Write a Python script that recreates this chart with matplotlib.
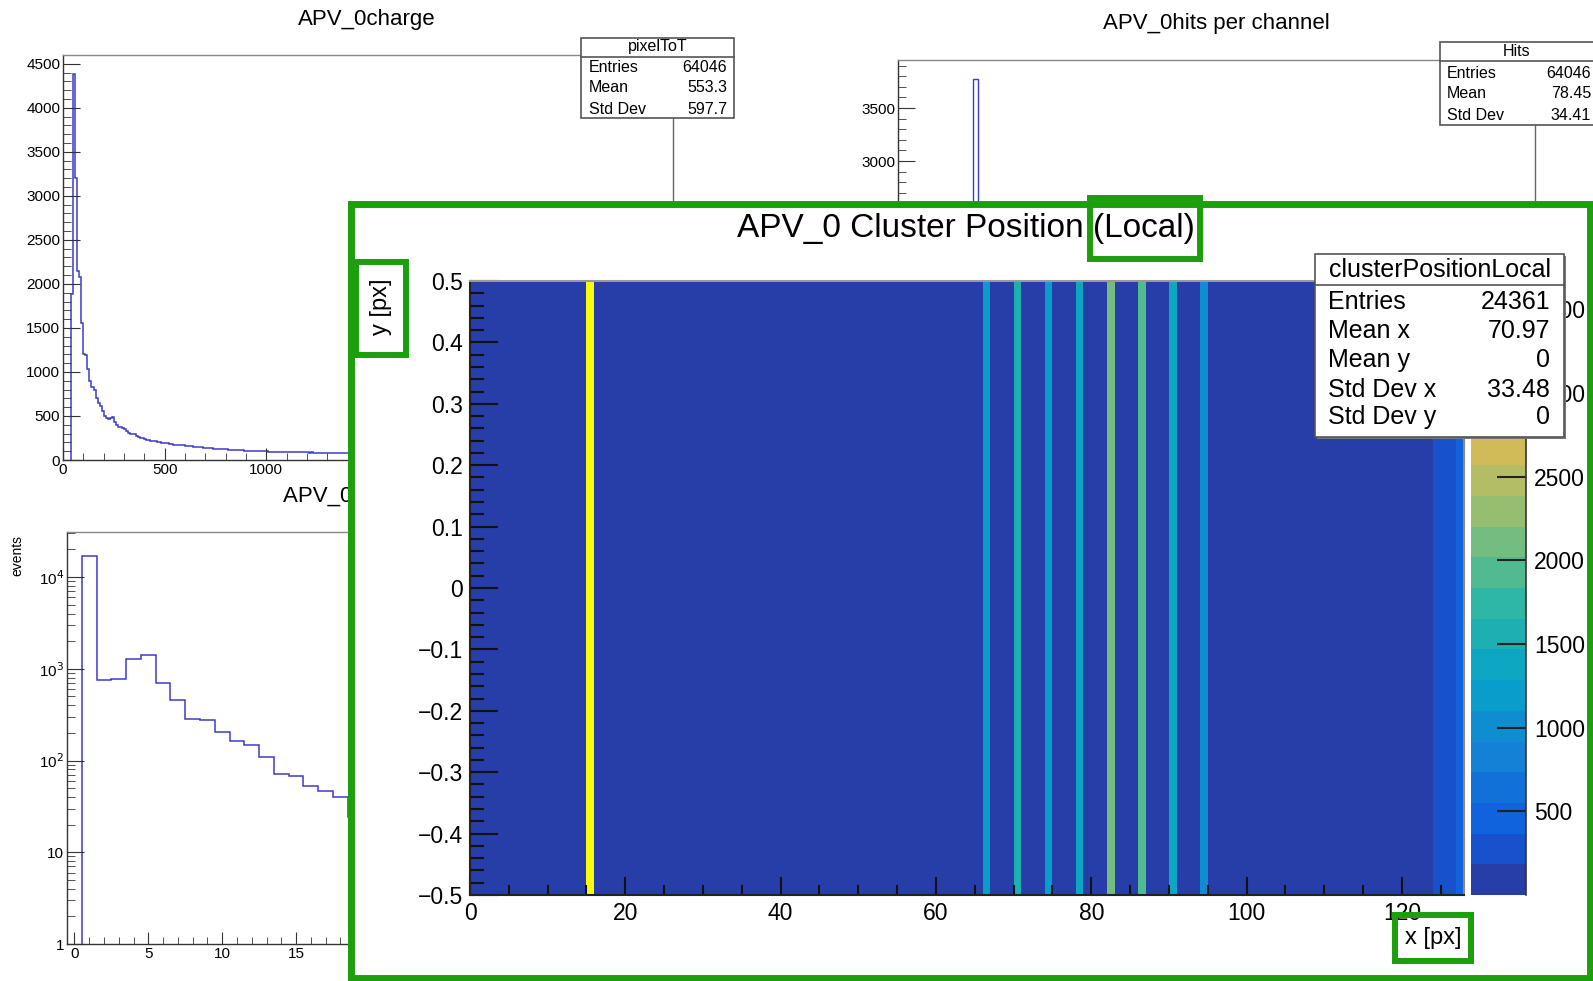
import numpy as np
import matplotlib
matplotlib.use("Agg")
import matplotlib.pyplot as plt
from matplotlib.colors import LinearSegmentedColormap, ListedColormap, BoundaryNorm
from matplotlib.patches import Rectangle
from matplotlib.lines import Line2D
from matplotlib.ticker import MultipleLocator, FixedLocator, LogLocator, NullFormatter, FuncFormatter

plt.rcParams['font.family'] = ['Liberation Sans', 'DejaVu Sans']

W, H = 1593, 981
GREEN = '#1c9f0c'
HIST = '#3b3bcc'

# ---- data ----
charge_lo, charge_w = 40, 10
charge_counts = [
    1880, 4380, 3200, 2150, 2080, 1560, 1200, 1190, 1030, 900,
    830, 790, 700, 650, 610, 560, 500, 480, 470, 475,
    490, 430, 400, 380, 375, 360, 350, 330, 310, 300,
    290, 295, 270, 262, 255, 245, 240, 232, 228, 220,
    218, 212, 205, 200, 196, 192, 190, 188, 184, 180,
    176, 172, 170, 168, 172, 165, 162, 160, 158, 155,
    152, 150, 148, 146, 144, 140, 138, 136, 135, 132,
    130, 128, 127, 125, 123, 121, 120, 118, 117, 115,
    114, 112, 111, 110, 108, 107, 106, 105, 104, 103,
    102, 101, 100, 99, 98, 100, 97, 96, 95, 96,
    95, 94, 93, 95, 92, 91, 93, 90, 91, 89,
    90, 88, 89, 87, 88, 86, 87, 85, 86, 85,
    84, 85, 83, 84, 82, 83, 81, 82, 80, 81,
    80, 79, 80, 78, 79, 78, 77, 78, 77, 78,
    76, 77, 76, 75, 76, 75, 74,
]
charge_stats = [("Entries", "64046"), ("Mean", "553.3"), ("Std Dev", "597.7")]

hits_counts = [
    180, 160, 170, 165, 175, 160, 168, 172, 166, 170, 174, 162, 169, 171, 165, 3774,
    175, 168, 160, 172, 166, 170, 164, 173, 169, 161, 174, 167, 170, 165, 172, 168,
    170, 174, 163, 171, 167, 175, 160, 172, 169, 166, 171, 173, 168, 162, 172, 170,
    166, 171, 175, 169, 160, 172, 170, 174, 163, 171, 168, 173, 167, 176, 170, 400,
    900, 1400, 2200, 1500, 900, 1500, 2500, 1600, 900, 1400, 2250, 1500, 950, 1450, 2350, 1500,
    1000, 1600, 2550, 1700, 1000, 1650, 2500, 1600, 950, 1450, 2300, 1450, 900, 1300, 2100, 1300,
    450, 200, 175, 168, 172, 165, 170, 169, 174, 163, 171, 170, 167, 172, 169, 175,
    170, 164, 171, 173, 166, 172, 169, 170, 161, 171, 173, 400, 900, 880, 920, 1200,
]
hits_stats = [("Entries", "64046"), ("Mean", "78.45"), ("Std Dev", "34.41")]

size_counts = [0, 17000, 750, 780, 1270, 1400, 700, 460, 286, 277, 207, 165, 148, 109,
               71, 67, 53, 46, 40, 24, 21, 18, 15, 13, 11, 9, 8, 6, 5, 4, 4, 3, 2, 2, 1, 1]
size_yticks = [1, 10, 100, 1000, 10000]
size_ylabels = ['1', '10', '10$^{2}$', '10$^{3}$', '10$^{4}$']

cluster_counts = [
    72, 65, 70, 68, 74, 66, 71, 69, 73, 67, 70, 72, 68, 75, 71, 3670,
    74, 69, 66, 72, 70, 68, 73, 71, 67, 70, 74, 69, 72, 66, 71, 68,
    70, 73, 67, 71, 69, 74, 66, 72, 70, 68, 71, 73, 69, 67, 72, 70,
    68, 71, 74, 69, 66, 72, 70, 73, 67, 71, 69, 72, 68, 74, 70, 66,
    71, 69, 1130, 72, 70, 68, 1540, 73, 67, 71, 1180, 69, 72, 70, 1360, 68,
    71, 73, 2080, 67, 70, 72, 1900, 69, 71, 68, 1360, 73, 70, 67, 1000, 72,
    69, 71, 68, 74, 70, 66, 72, 69, 73, 67, 71, 70, 68, 72, 69, 74,
    70, 67, 71, 73, 68, 72, 69, 70, 66, 71, 73, 68, 270, 265, 280, 420,
]
cluster_stats = [("Entries", "24361"), ("Mean x", "70.97"), ("Mean y", "0"),
                 ("Std Dev x", "33.48"), ("Std Dev y", "0")]
cbar_ticks = [500, 1000, 1500, 2000, 2500, 3000, 3500]
z_max = 3670
n_levels = 20

# ROOT kBird palette
bird_stops = [0.0, 0.125, 0.25, 0.375, 0.5, 0.625, 0.75, 0.875, 1.0]
bird_r = [0.2082, 0.0592, 0.0780, 0.0232, 0.1802, 0.5301, 0.8186, 0.9956, 0.9764]
bird_g = [0.1664, 0.3599, 0.5041, 0.6419, 0.7178, 0.7492, 0.7328, 0.7862, 0.9832]
bird_b = [0.5293, 0.8684, 0.8385, 0.7914, 0.6425, 0.4662, 0.3499, 0.1968, 0.0539]


def box(x0, y0, x1, y1):
    return [x0 / W, 1 - y1 / H, (x1 - x0) / W, (y1 - y0) / H]


def fx(x):
    return x / W


def fy(y):
    return 1 - y / H


def root_axes(rect, z=0):
    ax = fig.add_axes(rect, zorder=z)
    for s in ax.spines.values():
        s.set_color('#333333')
        s.set_linewidth(1)
    ax.spines['top'].set_color('#888888')
    ax.spines['right'].set_color('#666666')
    ax.tick_params(which='both', direction='in', top=False, right=False,
                   labelsize=11, pad=2, color='#333333')
    return ax


def stats_box(x0, y0, x1, y1, title, rows, title_y, sep_y, row_ys, lab_x, val_x,
              fs, z, shadow=0):
    if shadow:
        fig.add_artist(Rectangle((fx(x0 + shadow), fy(y1 + shadow)), (x1 - x0) / W,
                                 (y1 - y0) / H, transform=fig.transFigure,
                                 fc='#777777', ec='none', zorder=z - 0.01))
    fig.add_artist(Rectangle((fx(x0), fy(y1)), (x1 - x0) / W, (y1 - y0) / H,
                             transform=fig.transFigure, fc='white', ec='#555555',
                             lw=1.2, zorder=z))
    fig.add_artist(Line2D([fx(x0), fx(x1)], [fy(sep_y), fy(sep_y)],
                          transform=fig.transFigure, color='#555555', lw=1.2, zorder=z))
    fig.text(fx((x0 + min(x1, W)) / 2), fy(title_y), title, fontsize=fs,
             ha='center', va='center', zorder=z + 0.01)
    for (lab, val), yy in zip(rows, row_ys):
        fig.text(fx(lab_x), fy(yy), lab, fontsize=fs, ha='left', va='center', zorder=z + 0.01)
        fig.text(fx(val_x), fy(yy), val, fontsize=fs, ha='right', va='center', zorder=z + 0.01)


fig = plt.figure(figsize=(W / 100, H / 100), dpi=100)

# ---- background: charge ----
ax1 = root_axes(box(63, 55, 673, 460))
edges = charge_lo + charge_w * np.arange(len(charge_counts) + 1)
ax1.stairs(charge_counts, edges, color=HIST, lw=1.1)
ax1.set_xlim(0, 3000)
ax1.set_ylim(0, 4600)
ax1.xaxis.set_major_locator(MultipleLocator(500))
ax1.xaxis.set_minor_locator(MultipleLocator(100))
ax1.yaxis.set_major_locator(MultipleLocator(500))
ax1.yaxis.set_minor_locator(MultipleLocator(100))
ax1.tick_params(axis='y', which='major', length=12)
ax1.tick_params(axis='y', which='minor', length=6)
ax1.tick_params(axis='x', which='major', length=9)
ax1.tick_params(axis='x', which='minor', length=5)
fig.text(fx(367), fy(20), "APV_0charge", fontsize=16, ha='center', va='center', zorder=0.5)
stats_box(581, 38, 734, 118, "pixelToT", charge_stats, 47, 57, [68, 88, 109], 589, 727, 11.5, 0.5)

# ---- background: hits per channel ----
ax2 = root_axes(box(898, 60, 1535, 479))
ax2.stairs(hits_counts, np.arange(len(hits_counts) + 1), color=HIST, lw=1)
ax2.set_xlim(0, 128)
ax2.set_ylim(0, 3953)
ax2.yaxis.set_major_locator(MultipleLocator(500))
ax2.yaxis.set_minor_locator(MultipleLocator(100))
ax2.tick_params(axis='y', which='major', length=12)
ax2.tick_params(axis='y', which='minor', length=6)
fig.text(fx(1216), fy(23), "APV_0hits per channel", fontsize=16, ha='center', va='center', zorder=0.5)
stats_box(1440, 42, 1610, 125, "Hits", hits_stats, 51, 61, [73, 93, 115], 1447, 1591, 11.5, 0.5)

# ---- background: cluster size ----
ax3 = root_axes(box(67, 532, 673, 944))
ax3.set_yscale('log')
ax3.stairs(size_counts, np.arange(len(size_counts) + 1) - 0.5, color=HIST, lw=1.1)
ax3.set_xlim(-0.5, 40.5)
ax3.set_ylim(1, 31000)
ax3.yaxis.set_major_locator(FixedLocator(size_yticks))
ax3.set_yticklabels(size_ylabels)
ax3.yaxis.set_minor_locator(LogLocator(subs=np.arange(2, 10)))
ax3.yaxis.set_minor_formatter(NullFormatter())
ax3.xaxis.set_major_locator(MultipleLocator(5))
ax3.xaxis.set_minor_locator(MultipleLocator(1))
ax3.tick_params(axis='y', which='major', length=12)
ax3.tick_params(axis='y', which='minor', length=6)
ax3.tick_params(axis='x', which='major', length=9)
ax3.tick_params(axis='x', which='minor', length=5)
fig.text(fx(283), fy(496), "APV_0cluster size", fontsize=16, ha='left', va='center', zorder=0.5)
fig.text(fx(17), fy(555), "events", fontsize=10, rotation=90, ha='center', va='center', zorder=0.5)

# ---- foreground panel ----
fig.add_artist(Rectangle((fx(351), fy(978)), (1590 - 351) / W, (978 - 204) / H,
                         transform=fig.transFigure, fc='white', ec=GREEN, lw=5, zorder=1))

bird = LinearSegmentedColormap.from_list(
    'bird', list(zip(bird_stops, zip(bird_r, bird_g, bird_b))), N=255)
level_idx = [min(int((i + 0.99) * 255 / n_levels), 254) for i in range(n_levels)]
level_cmap = ListedColormap([bird(k) for k in level_idx])
norm = BoundaryNorm(np.linspace(0, z_max, n_levels + 1), n_levels)

axh = fig.add_axes(box(470, 281, 1464, 895), zorder=2)
mesh = axh.pcolormesh(np.arange(len(cluster_counts) + 1), [-0.5, 0.5],
                      np.array([cluster_counts]), cmap=level_cmap, norm=norm)
axh.set_xlim(0, 128)
axh.set_ylim(-0.5, 0.5)
axh.xaxis.set_major_locator(MultipleLocator(20))
axh.xaxis.set_minor_locator(MultipleLocator(5))
axh.yaxis.set_major_locator(MultipleLocator(0.1))
axh.yaxis.set_minor_locator(MultipleLocator(0.02))
axh.yaxis.set_major_formatter(FuncFormatter(
    lambda v, p: f"{round(v, 2) + 0:g}".replace('-', '\u2212')))
axh.tick_params(which='both', direction='in', top=False, right=False,
                labelsize=16.5, color='#111111', width=1.5)
axh.tick_params(axis='y', which='major', length=20, pad=5)
axh.tick_params(axis='y', which='minor', length=10)
axh.tick_params(axis='x', which='major', length=13, pad=5)
axh.tick_params(axis='x', which='minor', length=7)
for s in axh.spines.values():
    s.set_linewidth(1.5)
    s.set_color('#222222')
axh.spines['top'].set_color('#999999')
axh.spines['right'].set_color('#888888')

cax = fig.add_axes(box(1471, 281, 1526, 895), zorder=2)
cb = fig.colorbar(mesh, cax=cax)
cb.set_ticks(cbar_ticks)
cb.outline.set_visible(False)
cax.plot([1, 1], [0, 1], transform=cax.transAxes, color='#333333', lw=1.2, clip_on=False)
cax.tick_params(direction='in', length=21, width=1.5, color='#222222', labelsize=16.5, pad=6)
cax.minorticks_off()

fig.text(fx(966), fy(229), "APV_0 Cluster Position (Local)", fontsize=24,
         ha='center', va='center', zorder=3)
fig.text(fx(381), fy(307), "y [px]", fontsize=17, rotation=90, ha='center', va='center', zorder=3)
fig.text(fx(1433), fy(938), "x [px]", fontsize=17, ha='center', va='center', zorder=3)

for x0, y0, x1, y1 in [(1090, 198, 1200, 259), (356, 262, 406, 355), (1395, 915, 1471, 961)]:
    fig.add_artist(Rectangle((fx(x0), fy(y1)), (x1 - x0) / W, (y1 - y0) / H,
                             transform=fig.transFigure, fc='none', ec=GREEN, lw=4.3, zorder=3.5))

stats_box(1315, 254, 1564, 437, "clusterPositionLocal", cluster_stats, 270, 285,
          [302, 331, 360, 390, 417], 1328, 1550, 18, 4, shadow=2)

fig.savefig("out.png", dpi=100)
